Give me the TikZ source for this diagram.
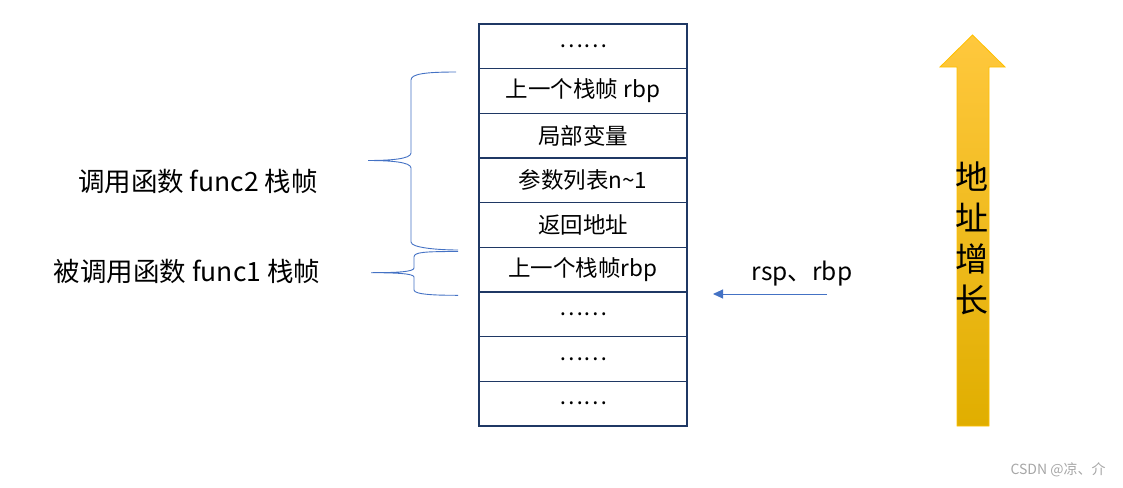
\documentclass[tikz,border=0pt]{standalone}
\usepackage{fontspec}
\setmainfont{Noto Sans CJK SC}
\usetikzlibrary{arrows.meta}
\definecolor{frameblue}{HTML}{1F3864}
\definecolor{braceblue}{HTML}{4472C4}
\definecolor{arrowtop}{HTML}{FFC83D}
\definecolor{arrowbot}{HTML}{E0AE00}
\definecolor{arrowedge}{HTML}{FFC000}
\begin{document}
\begin{tikzpicture}[x=1pt,y=-1pt,
  cell/.style={draw=frameblue,line width=1.6pt,minimum width=208pt,minimum height=44.7pt,inner sep=0pt,font=\fontsize{22.5}{22.5}\selectfont},
  side/.style={font=\fontsize{26.5}{26.5}\selectfont},
  curly/.style={draw=braceblue,line width=0.9pt},
  ptr/.style={draw=braceblue,line width=1pt,-{Triangle[length=10pt,width=9pt]}}]
\useasboundingbox (0,0) rectangle (1123,487);

\node[cell](r1) at (583,46.3) {……};
\node[cell](r2) at (583,91.0) {上一个栈帧 rbp};
\node[cell](r3) at (583,135.7) {局部变量};
\node[cell](r4) at (583,180.3) {参数列表n\textasciitilde1};
\node[cell](r5) at (583,225.0) {返回地址};
\node[cell](r6) at (583,269.7) {上一个栈帧rbp};
\node[cell](r7) at (583,314.3) {……};
\node[cell](r8) at (583,359.0) {……};
\node[cell](r9) at (583,403.7) {……};

\node[side](f2) at (198,181) {调用函数 func2 栈帧};
\node[side](f1) at (187,271) {被调用函数 func1 栈帧};

% braces
\draw[curly] (456,72) .. controls (425,72) and (411,74) .. (411,80) -- (411,153)
  .. controls (411,159) and (390,160.5) .. (368,160.5)
  .. controls (390,160.5) and (411,162) .. (411,168) -- (411,242)
  .. controls (411,248) and (440,250) .. (458,250);
\draw[curly] (458,251.5) .. controls (425,251.5) and (414,252) .. (414,257) -- (414,268)
  .. controls (414,272) and (395,272.7) .. (371,272.7)
  .. controls (395,272.7) and (414,273.5) .. (414,277) -- (414,290)
  .. controls (414,295) and (440,295.3) .. (458,295.3);

% rsp arrow
\coordinate (rspfrom) at (827,294);
\coordinate (rspto) at (713,294);
\draw[ptr] (rspfrom) -- (rspto);
\node[font=\fontsize{24.5}{24.5}\selectfont](rsp) at (802,274) {rsp、rbp};

% address arrow
\shade[top color=arrowtop,bottom color=arrowbot,draw=arrowedge,line width=0.8pt]
  (957,426) -- (957,67) -- (940,67) -- (972.5,35) -- (1005,67) -- (989,67) -- (989,426) -- cycle;
\node[font=\fontsize{33}{41}\selectfont,align=center](grow) at (972,238) {地\\址\\增\\长};

\node[text=gray!70,font=\fontsize{14}{14}\selectfont](mark) at (1058,470) {CSDN @凉、介};
\end{tikzpicture}
\end{document}
